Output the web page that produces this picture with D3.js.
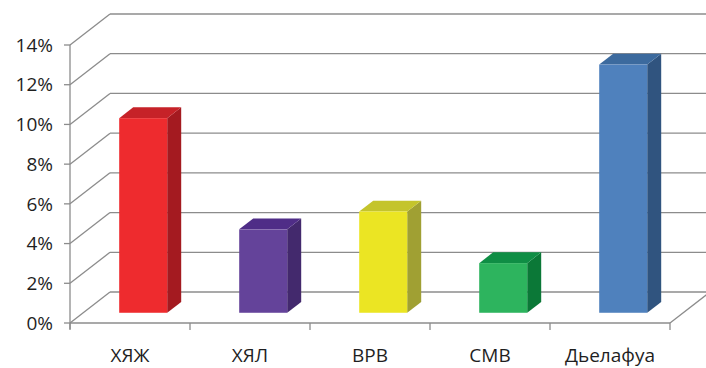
<!DOCTYPE html>
<html>
<head>
<meta charset="utf-8">
<script src="https://cdn.jsdelivr.net/npm/d3@7"></script>
<style>
  html, body { margin: 0; padding: 0; background: #fff; }
  svg { display: block; }
  text { font-family: "Open Sans", "Liberation Sans", sans-serif; fill: #1f1f1f; }
</style>
</head>
<body>
<svg id="chart" width="706" height="368"></svg>
<script>
const categories = ["ХЯЖ", "ХЯЛ", "ВРВ", "СМВ", "Дьелафуа"];
const values = [0.098, 0.042, 0.051, 0.025, 0.125];
const yTicks = [0, 0.02, 0.04, 0.06, 0.08, 0.10, 0.12, 0.14];
const frontColors = ["#ee2b2e", "#64439a", "#ebe523", "#2db45e", "#4f81bd"];
const topColors   = ["#c62228", "#4f2d87", "#c4c42c", "#0f8e45", "#3c6a9e"];
const sideColors  = ["#a41a20", "#43296d", "#a0a033", "#0b7837", "#30547f"];

const svg = d3.select("#chart");
const X0 = 70, X1 = 670;
const DX = 40, DY = -31;          // wall depth offset
const F0 = 0.33, F1 = 0.68;       // bar depth fractions

const x = d3.scaleBand().domain(categories).range([X0, X1]).paddingInner(0.6).paddingOuter(0.3);
const y = d3.scaleLinear().domain([0, 0.14]).range([323, 45]);
const step = x.step();

const grid = svg.append("g").attr("stroke", "#8c8c8c").attr("stroke-width", 1.3).attr("fill", "none");

yTicks.forEach(v => {
  const yf = y(v);
  grid.append("line").attr("x1", X0).attr("y1", yf).attr("x2", X0 + DX).attr("y2", yf + DY);
  grid.append("line").attr("x1", X0 + DX).attr("y1", yf + DY).attr("x2", X1 + DX).attr("y2", yf + DY);
  grid.append("line").attr("x1", X0 - 6).attr("y1", yf).attr("x2", X0).attr("y2", yf);
});
grid.append("line").attr("x1", X0).attr("y1", y(0)).attr("x2", X1).attr("y2", y(0));
grid.append("line").attr("x1", X1).attr("y1", y(0)).attr("x2", X1 + DX).attr("y2", y(0) + DY);
grid.append("line").attr("x1", X0).attr("y1", y(0.14)).attr("x2", X0).attr("y2", y(0) + 6);
d3.range(categories.length + 1).forEach(i => {
  const xx = X0 + i * step;
  grid.append("line").attr("x1", xx).attr("y1", y(0)).attr("x2", xx).attr("y2", y(0) + 7);
});

svg.append("g").selectAll("text").data(yTicks).join("text")
  .attr("x", 53).attr("y", d => y(d)).attr("dy", "0.35em")
  .attr("text-anchor", "end").attr("font-size", 19)
  .text(d => d3.format(".0%")(d));

svg.append("g").selectAll("text").data(categories).join("text")
  .attr("x", d => x(d) + x.bandwidth() / 2).attr("y", 362)
  .attr("text-anchor", "middle").attr("font-size", 19)
  .text(d => d);

const bars = svg.append("g");
categories.forEach((c, i) => {
  const v = values[i];
  const fdx = DX * F0, fdy = DY * F0;
  const bdx = DX * F1, bdy = DY * F1;
  const l = x(c) + fdx, r = x(c) + x.bandwidth() + fdx;
  const t = y(v) + fdy, b = y(0) + fdy;
  const ddx = bdx - fdx, ddy = bdy - fdy;
  bars.append("path").attr("fill", sideColors[i])
    .attr("d", `M${r},${t}L${r + ddx},${t + ddy}L${r + ddx},${b + ddy}L${r},${b}Z`);
  bars.append("path").attr("fill", topColors[i])
    .attr("d", `M${l},${t}L${l + ddx},${t + ddy}L${r + ddx},${t + ddy}L${r},${t}Z`);
  bars.append("rect").attr("fill", frontColors[i])
    .attr("x", l).attr("y", t).attr("width", r - l).attr("height", b - t);
});
</script>
</body>
</html>
